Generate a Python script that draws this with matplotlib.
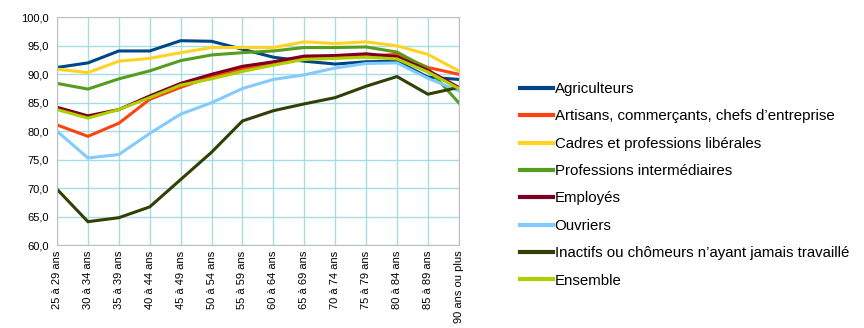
import matplotlib.pyplot as plt
import matplotlib.ticker as mticker
from matplotlib.lines import Line2D

plt.rcParams['font.family'] = ['Liberation Sans', 'DejaVu Sans']

ages = ["25 à 29 ans", "30 à 34 ans", "35 à 39 ans", "40 à 44 ans", "45 à 49 ans",
        "50 à 54 ans", "55 à 59 ans", "60 à 64 ans", "65 à 69 ans", "70 à 74 ans",
        "75 à 79 ans", "80 à 84 ans", "85 à 89 ans", "90 ans ou plus"]

agriculteurs = [91.2, 92.0, 94.1, 94.1, 95.9, 95.8, 94.4, 93.0, 92.3, 91.8, 92.2, 92.3, 89.5, 89.1]
artisans = [81.1, 79.1, 81.4, 85.6, 87.7, 89.6, 91.0, 91.9, 93.1, 93.1, 93.2, 93.5, 91.2, 90.0]
cadres = [90.9, 90.3, 92.3, 92.8, 93.8, 94.7, 94.7, 94.7, 95.7, 95.4, 95.7, 95.0, 93.5, 90.6]
prof_inter = [88.4, 87.4, 89.2, 90.6, 92.4, 93.4, 93.8, 94.1, 94.7, 94.7, 94.8, 93.9, 91.0, 85.0]
employes = [84.2, 82.7, 83.8, 86.2, 88.4, 90.0, 91.4, 92.2, 93.2, 93.3, 93.6, 93.1, 90.7, 87.7]
ouvriers = [80.0, 75.3, 75.9, 79.6, 83.0, 85.0, 87.5, 89.1, 89.9, 91.1, 91.9, 92.0, 89.3, 87.1]
inactifs = [69.8, 64.1, 64.8, 66.7, 71.5, 76.3, 81.8, 83.6, 84.8, 85.9, 87.9, 89.6, 86.5, 87.7]
ensemble = [83.8, 82.3, 83.8, 85.9, 88.1, 89.2, 90.5, 91.6, 92.6, 92.8, 93.0, 92.7, 90.4, 87.5]

series = [
    ("Agriculteurs", agriculteurs, "#004586"),
    ("Artisans, commerçants, chefs d\u2019entreprise", artisans, "#ff420e"),
    ("Cadres et professions libérales", cadres, "#ffd320"),
    ("Professions intermédiaires", prof_inter, "#579d1c"),
    ("Employés", employes, "#7e0021"),
    ("Ouvriers", ouvriers, "#83caff"),
    ("Inactifs ou chômeurs n\u2019ayant jamais travaillé", inactifs, "#314004"),
    ("Ensemble", ensemble, "#aecf00"),
]

fig = plt.figure(figsize=(8.64, 3.28), dpi=100)
ax = fig.add_axes([0.066, 0.253, 0.465, 0.694])

x = list(range(len(ages)))
for name, vals, col in series:
    ax.plot(x, vals, color=col, linewidth=2.2, label=name, solid_joinstyle='miter')

ax.set_xlim(0, len(ages) - 1)
ax.set_ylim(60, 100)
ax.yaxis.set_major_locator(mticker.MultipleLocator(5))
ax.yaxis.set_major_formatter(mticker.FuncFormatter(lambda v, p: f"{v:.1f}".replace('.', ',')))
ax.set_xticks(x)
ax.set_xticklabels(ages, rotation=90, fontsize=8)
ax.tick_params(axis='y', labelsize=8, length=0, pad=6)
ax.tick_params(axis='x', length=0, pad=4)
ax.grid(True, color='#a6dce2', linewidth=1)
ax.set_axisbelow(True)
for s in ax.spines.values():
    s.set_color('#c0c0c0')

handles = [Line2D([], [], color=c, linewidth=3) for _, _, c in series]
labels = [n for n, _, _ in series]
fig.legend(handles, labels, loc='upper left', bbox_to_anchor=(0.595, 0.768),
           frameon=False, fontsize=10.8, handlelength=2.2, handletextpad=0.1,
           labelspacing=0.89, borderaxespad=0)

fig.savefig("out.png", dpi=100)
